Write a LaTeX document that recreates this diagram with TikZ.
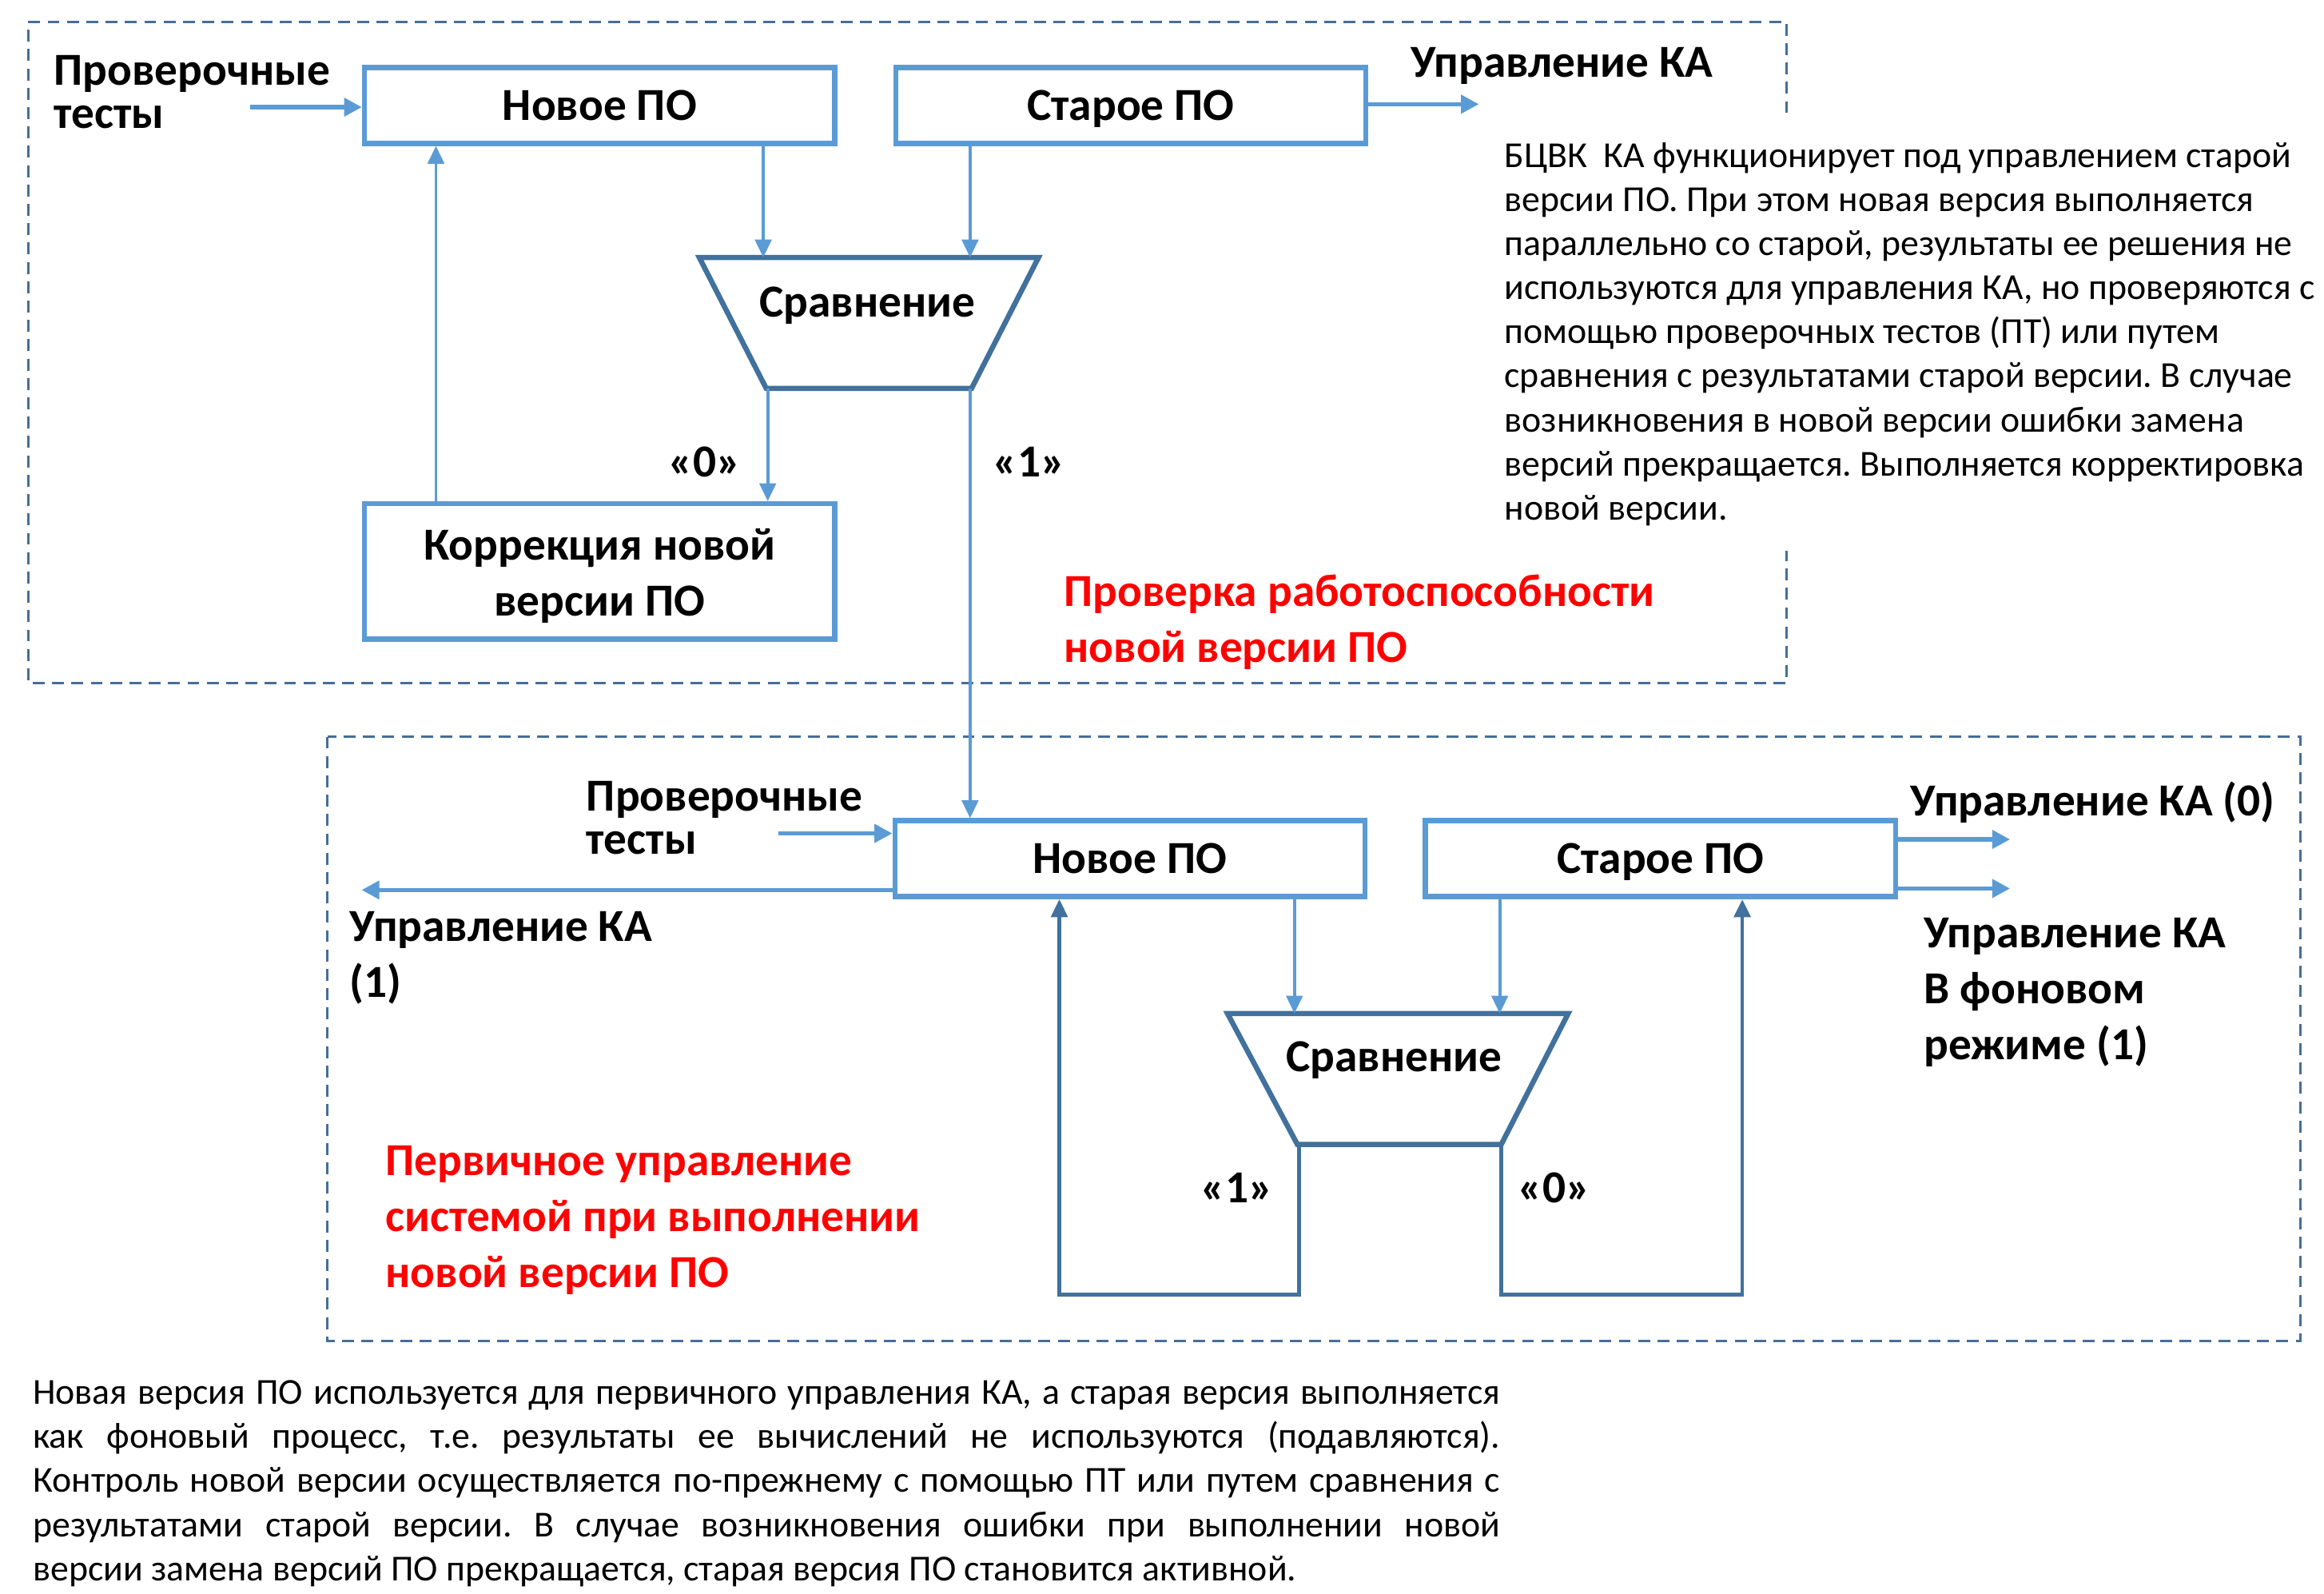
\documentclass[tikz,border=0pt]{standalone}
\usepackage{fontspec}
\setmainfont{Carlito}
\usetikzlibrary{arrows.meta}
\definecolor{boxblue}{RGB}{91,155,213}
\definecolor{trapblue}{RGB}{65,113,156}
\definecolor{dashblue}{RGB}{70,110,152}
\definecolor{redtxt}{RGB}{255,0,0}
\newcommand\lblfont{\fontsize{30.8}{37.5}\selectfont\bfseries}
\newcommand\testfont{\fontsize{30.8}{29}\selectfont\bfseries}
\newcommand\parfont{\fontsize{24.6}{29.6}\selectfont}
\frenchspacing
\begin{document}
\frenchspacing
\begin{tikzpicture}[x=1pt,y=-1pt,
  pobox/.style={draw=boxblue,line width=3.5pt,minimum width=316pt,minimum height=51pt,inner sep=0pt,font=\lblfont,fill=white,align=center},
  onebox/.style={pobox,text height=19.6pt,text depth=0pt},
  trapz/.style={draw=trapblue,line width=3.5pt,line join=miter},
  dashframe/.style={draw=dashblue,line width=1.6pt,dash pattern=on 8pt off 5pt},
  conn/.style={draw=boxblue,line width=2pt,-{Triangle[length=12pt,width=11pt]}},
  bigconn/.style={draw=boxblue,line width=3pt,-{Triangle[length=12pt,width=12pt]}},
  fbline/.style={draw=trapblue,line width=2.5pt,-{Triangle[length=12pt,width=11pt]}},
  lbl/.style={font=\lblfont,inner sep=0pt,anchor=base west,align=left},
  redlbl/.style={lbl,text=redtxt},
  tst/.style={font=\testfont,inner sep=0pt,anchor=base west,align=left},
  ptxt/.style={font=\parfont,inner sep=0pt,anchor=base west,align=left},
]
\fill[white] (0,0) rectangle (1562,1071);
\useasboundingbox (0,0) rectangle (1562,1071);

% ---------- frames ----------
\draw[dashframe] (1201,76) -- (1201,15) -- (19,15) -- (19,459) -- (1201,459) -- (1201,370);
\draw[dashframe] (220,495) rectangle (1546,901);

% ---------- top part ----------
\node[onebox] (nov1) at (403,70.8) {Новое ПО};
\node[onebox] (old1) at (760,70.8) {Старое ПО};
\node[pobox,minimum height=91pt] (kor) at (403,384) {\rule{0pt}{27pt}Коррекция новой\\версии ПО};

\coordinate (t1tl) at (470,173);
\coordinate (t1tr) at (698,173);
\coordinate (t1br) at (653,261);
\coordinate (t1bl) at (515,261);
\draw[trapz] (t1tl) -- (t1tr) -- (t1br) -- (t1bl) -- cycle;
\node[font=\lblfont,inner sep=0pt,anchor=base] (cmp1) at (583,213) {Сравнение};

\coordinate (a1) at (513,173);
\coordinate (a2) at (652,173);
\coordinate (a3) at (516,261);
\coordinate (a4) at (652,261);
\coordinate (a5) at (293,0);
\draw[conn] (nov1.south -| a1) -- (a1);
\draw[conn] (old1.south -| a2) -- (a2);
\draw[conn] (a3) -- (kor.north -| a3);
\draw[conn] (kor.north -| a5) -- (nov1.south -| a5);

\node[tst] (tests1) at (36,86.4) {Проверочные\\тесты};
\coordinate (ts1) at (168,72);
\draw[bigconn] (ts1) -- (ts1 -| nov1.west);
\coordinate (ctl1) at (994,70);
\draw[bigconn] (ctl1 -| old1.east) -- (ctl1);
\node[lbl] (ctl1lbl) at (948,52) {Управление КА};

\node[lbl] (z0a) at (449,320.5) {«0»};
\node[lbl] (z1a) at (667,320.5) {«1»};

\node[ptxt] (para1) at (1011,349.3) {БЦВК\ \ КА функционирует под управлением старой\\
версии ПО. При этом новая версия выполняется\\
параллельно со старой, результаты ее решения не\\
используются для управления КА, но проверяются с\\
помощью проверочных тестов (ПТ) или путем\\
сравнения с результатами старой версии. В случае\\
возникновения в новой версии ошибки замена\\
версий прекращается. Выполняется корректировка\\
новой версии.};

\node[redlbl] (red1) at (715,445) {Проверка работоспособности\\новой версии ПО};

% ---------- bottom part ----------
\node[onebox] (nov2) at (759.5,577) {Новое ПО};
\node[onebox] (old2) at (1116,577) {Старое ПО};
\draw[conn] (a4) -- (nov2.north -| a4);

\coordinate (t2tl) at (825,681);
\coordinate (t2tr) at (1054,681);
\coordinate (t2br) at (1009,769);
\coordinate (t2bl) at (872,769);
\draw[trapz] (t2tl) -- (t2tr) -- (t2br) -- (t2bl) -- cycle;
\node[font=\lblfont,inner sep=0pt,anchor=base] (cmp2) at (937,720) {Сравнение};

\coordinate (b1) at (870,681);
\coordinate (b2) at (1008,681);
\draw[conn] (nov2.south -| b1) -- (b1);
\draw[conn] (old2.south -| b2) -- (b2);

\coordinate (l1) at (873,769);
\coordinate (l2) at (873,870);
\coordinate (l3) at (712,870);
\draw[fbline] (l1) -- (l2) -- (l3) -- (nov2.south -| l3);
\coordinate (r1) at (1009,769);
\coordinate (r2) at (1009,870);
\coordinate (r3) at (1171,870);
\draw[fbline] (r1) -- (r2) -- (r3) -- (old2.south -| r3);

\node[lbl] (z1b) at (807,808) {«1»};
\node[lbl] (z0b) at (1020,808) {«0»};

\node[tst] (tests2) at (394,574) {Проверочные\\тесты};
\coordinate (ts2) at (523,560);
\draw[bigconn] (ts2) -- (ts2 -| nov2.west);
\coordinate (ctl2) at (243,598);
\draw[bigconn] (ctl2 -| nov2.west) -- (ctl2);
\node[lbl] (ctl2lbl) at (235,670) {Управление КА\\(1)};

\coordinate (o1) at (1351,564);
\coordinate (o2) at (1351,597);
\draw[bigconn] (o1 -| old2.east) -- (o1);
\draw[bigconn] (o2 -| old2.east) -- (o2);
\node[lbl] (ctl0lbl) at (1284,548) {Управление КА (0)};
\node[lbl] (bglbl) at (1293,712) {Управление КА\\В фоновом\\режиме (1)};

\node[redlbl] (red2) at (259,865) {Первичное управление\\системой при выполнении\\новой версии ПО};

\node[ptxt] (para2) at (22,1062) {\makebox[986pt][s]{Новая версия ПО используется для первичного управления КА, а старая версия выполняется}\\
\makebox[986pt][s]{как фоновый процесс, т.е. результаты ее вычислений не используются (подавляются).}\\
\makebox[986pt][s]{Контроль новой версии осуществляется по-прежнему с помощью ПТ или путем сравнения с}\\
\makebox[986pt][s]{результатами старой версии. В случае возникновения ошибки при выполнении новой}\\
версии замена версий ПО прекращается, старая версия ПО становится активной.};
\end{tikzpicture}
\end{document}
